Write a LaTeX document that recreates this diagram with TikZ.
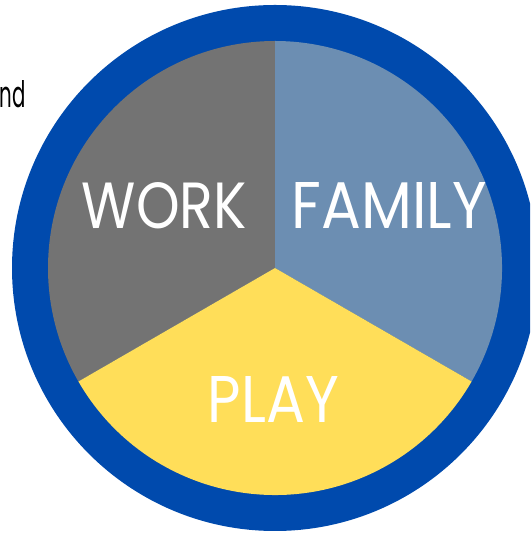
\documentclass[tikz,border=0pt]{standalone}
\usepackage{fontspec}
\setmainfont{Poppins}
\usepackage{graphicx}
\definecolor{ringblue}{HTML}{004AAD}
\definecolor{workgray}{HTML}{737373}
\definecolor{familyblue}{HTML}{6C8EB2}
\definecolor{playyellow}{HTML}{FFDE59}
\begin{document}
\begin{tikzpicture}[x=1pt,y=1pt,
  lbl/.style={text=white, inner sep=0pt, anchor=center, font=\fontsize{60}{60}\selectfont},
  sector/.style={draw=none}]
\useasboundingbox (0,0) rectangle (530,535);
\clip (0,0) rectangle (530,535);
\coordinate (c) at (275,267);
\fill[ringblue] (c) circle[radius=263];
\fill[workgray, sector] (c) -- ++(90:227) arc[start angle=90, end angle=210, radius=227] -- cycle;
\fill[familyblue, sector] (c) -- ++(-30:227) arc[start angle=-30, end angle=90, radius=227] -- cycle;
\fill[playyellow, sector] (c) -- ++(210:227) arc[start angle=210, end angle=330, radius=227] -- cycle;
\node[lbl] (work) at (164.5,329) {\resizebox{165pt}{46pt}{WORK}};
\node[lbl] (family) at (389.5,329) {\resizebox{195pt}{46pt}{FAMILY}};
\node[lbl] (play) at (273.5,135) {\resizebox{131pt}{46pt}{PLAY}};
\node[inner sep=0pt, anchor=north east, text=black] (nd) at (26,455) {\resizebox{26pt}{27pt}{nd}};
\end{tikzpicture}
\end{document}
